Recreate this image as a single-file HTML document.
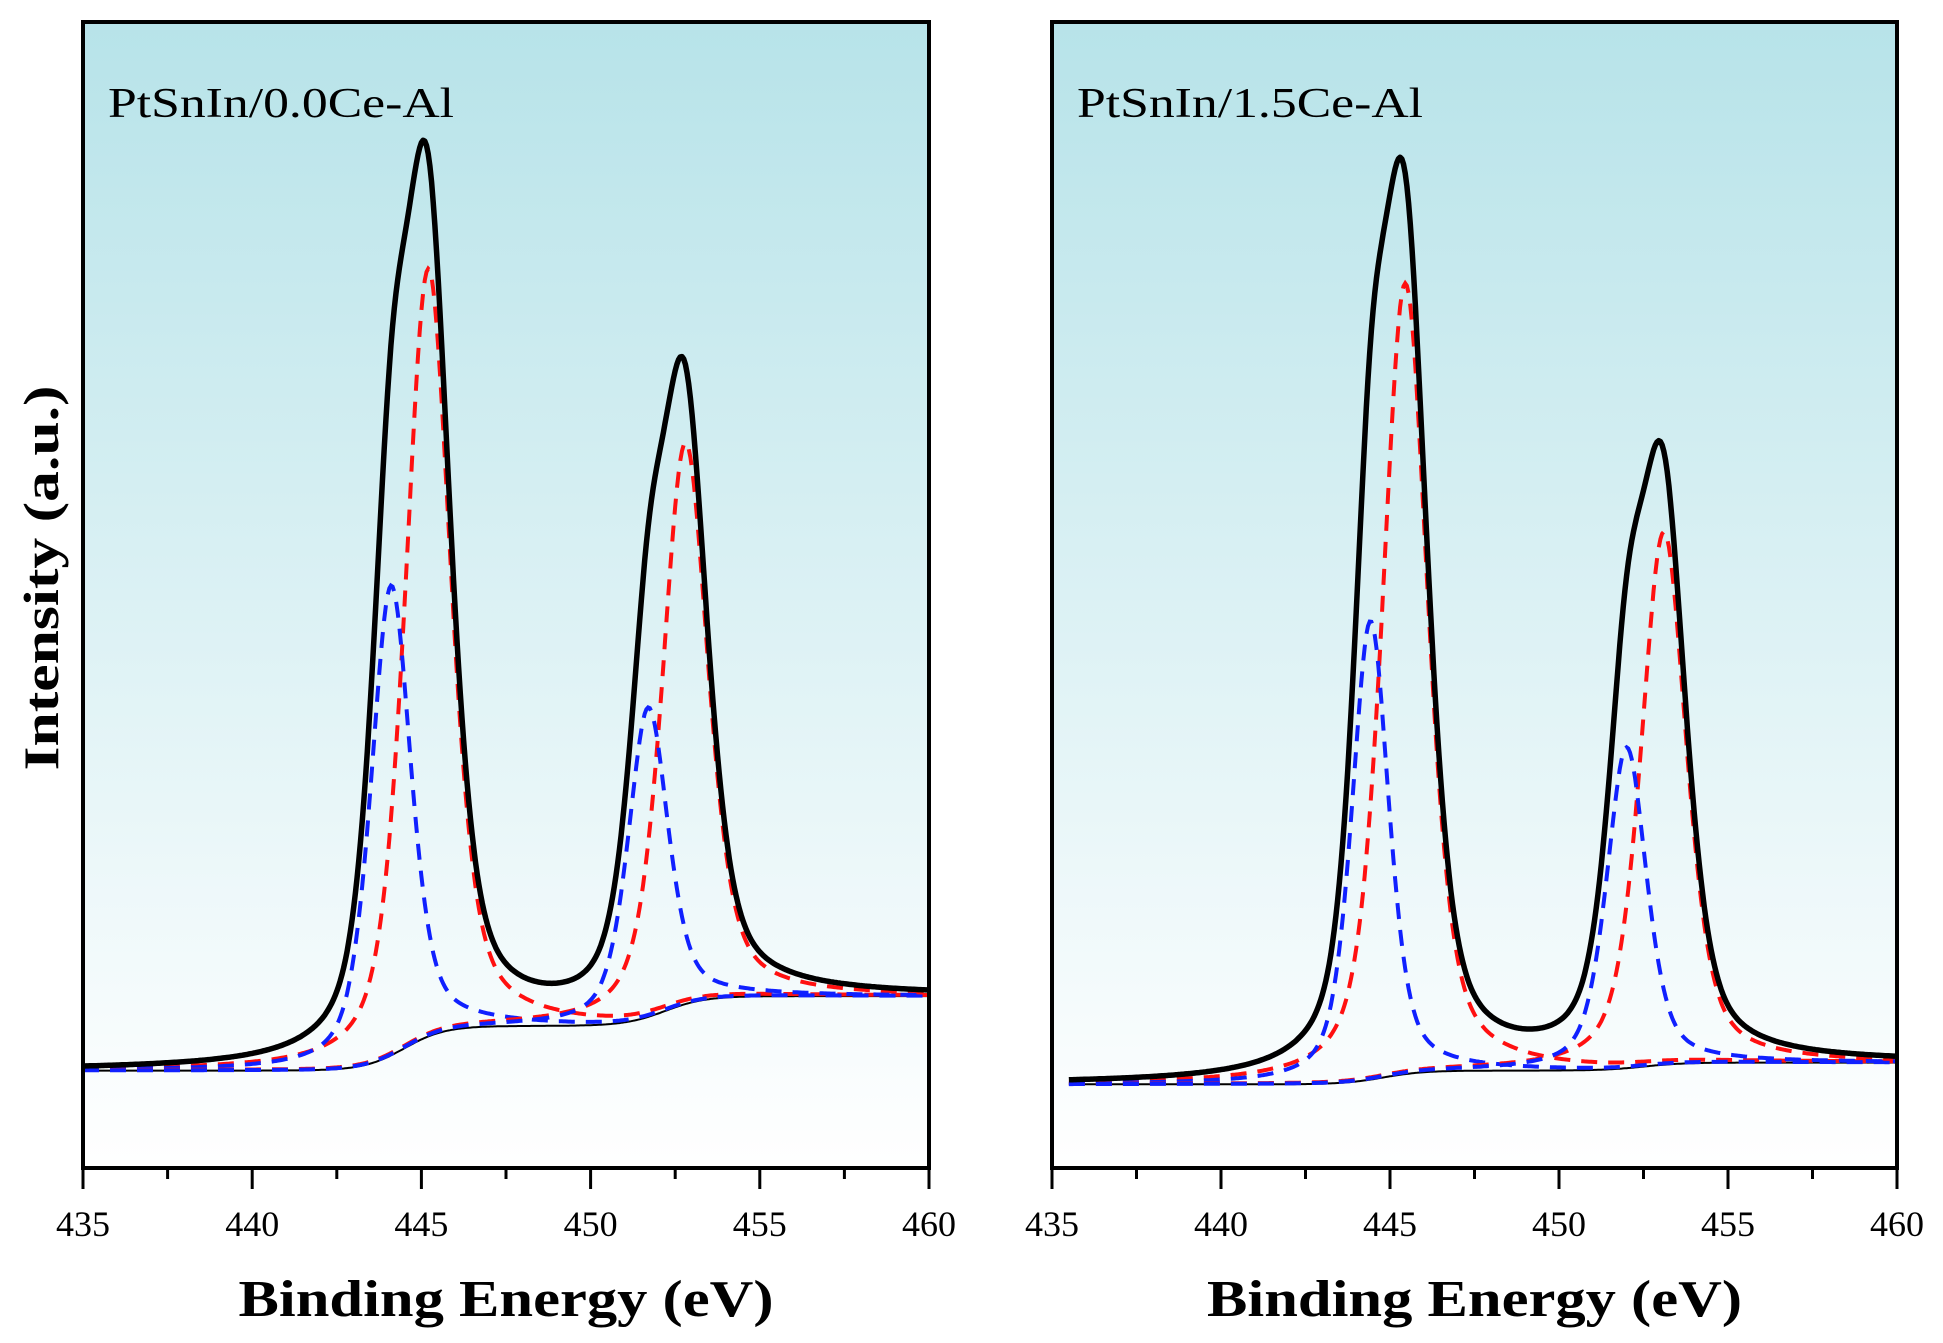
<!DOCTYPE html>
<html><head><meta charset="utf-8">
<style>
html,body{margin:0;padding:0;background:#fff;}
svg{display:block;font-family:"Liberation Serif","Times New Roman",Times,serif;}
</style></head>
<body>
<svg id="chart" width="1943" height="1343" viewBox="0 0 1943 1343" xmlns="http://www.w3.org/2000/svg">
<defs>
<linearGradient id="bgGrad" x1="0" y1="0" x2="0" y2="1">
<stop offset="0" stop-color="#b7e3e9"/>
<stop offset="1" stop-color="#ffffff"/>
</linearGradient>
</defs>
<text x="0" y="0" transform="translate(58,578) rotate(-90)" text-anchor="middle" font-size="50" font-weight="bold" textLength="385" lengthAdjust="spacingAndGlyphs">Intensity (a.u.)</text>
</svg>
<script>
// ---- data ----
const panelTitles = ["PtSnIn/0.0Ce-Al", "PtSnIn/1.5Ce-Al"];
const xTicks = [435, 440, 445, 450, 455, 460];
const xStart = [435, 435.5];
// fitted component parameters
const redCenters = [[445.2, 452.8], [445.45, 453.1]];
const redHeights = [[67, 49], [69, 46.5]];
const redFwhm = [[1.6, 1.6], [1.6, 1.6]];
const blueCenters = [[444.1, 451.7], [444.42, 452.0]];
const blueHeights = [[41, 27], [40, 28]];
const blueFwhm = [[1.4, 1.4], [1.3, 1.4]];
// Shirley-like background: base level, step heights, step positions
const bgBase = [8.5, 7.3];
const bgSteps = [[3.9, 2.6], [1.2, 0.7]];
const bgStepPos = [[444.5, 452.2], [444.8, 452.5]];

// ---- layout ----
const plots = [{x0:83, x1:929}, {x0:1052, x1:1897}];
const yTop = 22, yBot = 1168;
const NS = "http://www.w3.org/2000/svg";
const svg = document.getElementById("chart");
function mk(tag, attrs, parent){ const e=document.createElementNS(NS,tag); for(const k in attrs) e.setAttribute(k,attrs[k]); (parent||svg).appendChild(e); return e; }

function pv(x,c,h,f){ const d=(x-c)/(f/2); const L=1/(1+d*d); const G=Math.exp(-Math.LN2*d*d); return h*(0.5*L+0.5*G); }
function bg(i,x){ let v=bgBase[i]; for(let k=0;k<2;k++){ v+=bgSteps[i][k]/(1+Math.exp(-(x-bgStepPos[i][k])/0.6)); } return v; }

plots.forEach((p,i)=>{
  const xs = e => p.x0 + (e-435)/25*(p.x1-p.x0);
  const ys = v => yBot - v/100*(yBot-yTop);
  const g = mk("g",{});
  
  
  const r = mk("rect",{x:p.x0,y:yTop,width:p.x1-p.x0,height:yBot-yTop,fill:"url(#bgGrad)"},g);
  
  
  const energies=[]; for(let e=xStart[i]; e<=460.0001; e+=0.05) energies.push(e);
  function path(fn){ return energies.map((e,j)=>(j?"L":"M")+xs(e).toFixed(1)+","+ys(fn(e)).toFixed(1)).join(""); }
  const comps = [];
  for(let k=0;k<2;k++){
    comps.push({fn:e=>bg(i,e)+pv(e,redCenters[i][k],redHeights[i][k],redFwhm[i][k]), color:"#ff1010", name:"red-component-"+(k+1)});
    comps.push({fn:e=>bg(i,e)+pv(e,blueCenters[i][k],blueHeights[i][k],blueFwhm[i][k]), color:"#1020ff", name:"blue-component-"+(k+1)});
  }
  const b = mk("path",{d:path(e=>bg(i,e)),fill:"none",stroke:"#000","stroke-width":2},g);
  
  
  comps.forEach(c=>{
    const el = mk("path",{d:path(c.fn),fill:"none",stroke:c.color,"stroke-width":4,"stroke-dasharray":"16,11"},g);
    
    
  });
  const env = mk("path",{d:path(e=>{let v=bg(i,e);for(let k=0;k<2;k++){v+=pv(e,redCenters[i][k],redHeights[i][k],redFwhm[i][k])+pv(e,blueCenters[i][k],blueHeights[i][k],blueFwhm[i][k]);}return v;}),fill:"none",stroke:"#000","stroke-width":5.5,"stroke-linejoin":"round"},g);
  
  
  const fr = mk("rect",{x:p.x0,y:yTop,width:p.x1-p.x0,height:yBot-yTop,fill:"none",stroke:"#000","stroke-width":4},g);
  
  
  for(let e=435;e<=460;e+=2.5){
    const major = Math.abs(e%5)<1e-6;
    const t = mk("line",{x1:xs(e),x2:xs(e),y1:yBot,y2:yBot+(major?21:11),stroke:"#000","stroke-width":3},g);
    
    
  }
  xTicks.forEach(v=>{
    const t = mk("text",{x:xs(v),y:1236,"text-anchor":"middle","font-size":36},g);
    t.textContent=v;
    
    
  });
  const xt = mk("text",{x:(p.x0+p.x1)/2,y:1316,"text-anchor":"middle","font-size":52,"font-weight":"bold",textLength:535,lengthAdjust:"spacingAndGlyphs"},g);
  xt.textContent="Binding Energy (eV)";
  
  
  const tt = mk("text",{x:p.x0+25,y:117,"font-size":42,textLength:346,lengthAdjust:"spacingAndGlyphs"},g);
  tt.textContent=panelTitles[i];
  
  
});
</script>
</body></html>
